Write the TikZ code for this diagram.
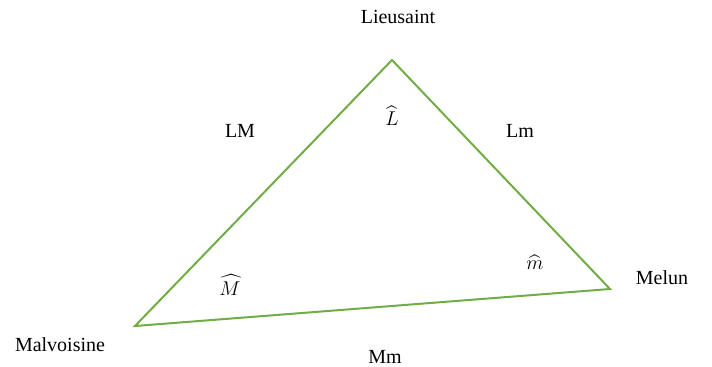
\documentclass[tikz,border=0pt]{standalone}
\usepackage{amsmath,amssymb}
\usepackage{fontspec}
\setmainfont{Liberation Serif}
\usetikzlibrary{calc,positioning}
\definecolor{trigreen}{HTML}{70AD47}
\tikzset{lab/.style={inner sep=0pt,font=\fontsize{12}{14}\selectfont}}

\begin{document}
\begin{tikzpicture}[x=0.6pt,y=-0.6pt]
\useasboundingbox (0,0) rectangle (712,367);
\coordinate (L) at (392,60);
\coordinate (M) at (135,326);
\coordinate (m) at (610,289);
\draw[trigreen,line width=1.2pt,line join=miter] (L)--(m)--(M)--cycle;
\foreach \p/\nm/\lab in {{(398,17)}/lieu/Lieusaint,{(662,278)}/mel/Melun,{(60,345)}/malv/Malvoisine,
  {(240,131)}/lM/LM,{(520,131)}/lm/Lm,{(385,357)}/mm/Mm}{
  \node[lab] (\nm) at \p {\lab};}
\node[lab] (angL) at (392,116) {$\widehat{L}$};
\node[lab] (angM) at (230,285) {$\widehat{M}$};
\node[lab] (angm) at (535,262) {$\widehat{m}$};
\end{tikzpicture}
\end{document}
